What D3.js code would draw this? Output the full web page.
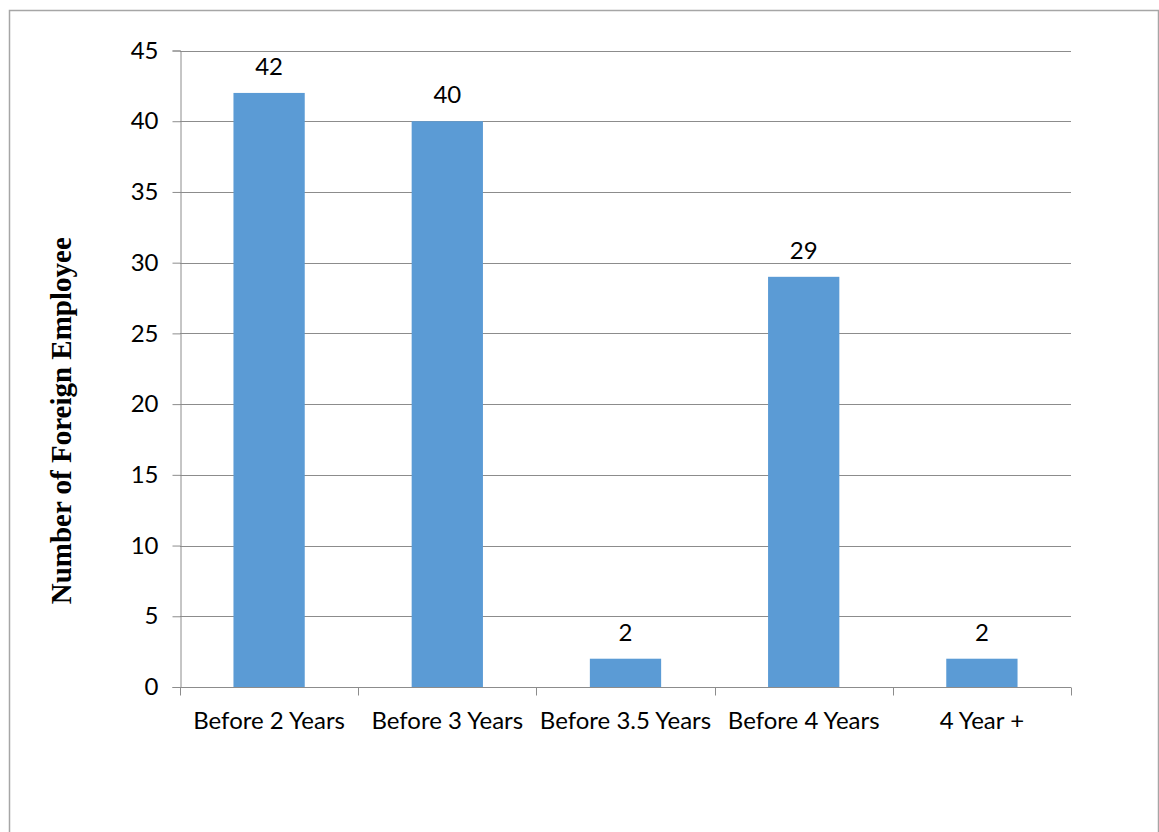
<!DOCTYPE html>
<html>
<head>
<meta charset="utf-8">
<script src="https://cdn.jsdelivr.net/npm/d3@7"></script>
<style>
  html, body { margin: 0; padding: 0; background: #fff; }
  svg { display: block; }
</style>
</head>
<body>
<svg id="chart" width="1159" height="832"></svg>
<script>
// Time-to-leave categories and the number of foreign employees in each
const categories = ["Before 2 Years", "Before 3 Years", "Before 3.5 Years", "Before 4 Years", "4 Year +"];
const employees = [42, 40, 2, 29, 2];
const yTicks = [0, 5, 10, 15, 20, 25, 30, 35, 40, 45];
const yTitle = "Number of Foreign Employee";

const svg = d3.select("#chart");
const W = 1159, H = 832;
const plot = { left: 180, right: 1071, top: 50.5, bottom: 687 };

const labelFont = "Lato, 'Open Sans', 'Liberation Sans', sans-serif";
const labelSize = 24;

// Outer frame (open at the bottom)
svg.append("path")
  .attr("d", `M9.5,${H} V10.5 H1158.5 V${H}`)
  .attr("fill", "none")
  .attr("stroke", "#a6a6a6")
  .attr("stroke-width", 1.5);

const x = d3.scaleBand()
  .domain(categories)
  .range([plot.left, plot.right])
  .paddingInner(0)
  .paddingOuter(0);

const y = d3.scaleLinear()
  .domain([0, 45])
  .range([plot.bottom, plot.top]);

// Horizontal gridlines
svg.append("g")
  .selectAll("line")
  .data(yTicks.filter(d => d > 0))
  .join("line")
  .attr("x1", plot.left)
  .attr("x2", plot.right)
  .attr("y1", d => Math.round(y(d)) + 0.5)
  .attr("y2", d => Math.round(y(d)) + 0.5)
  .attr("stroke", "#8c8c8c")
  .attr("stroke-width", 1);

// Y axis
const yAxis = svg.append("g")
  .attr("transform", `translate(${plot.left + 0.5},0)`)
  .call(d3.axisLeft(y).tickValues(yTicks).tickSize(8).tickPadding(14));
yAxis.select(".domain").attr("stroke", "#8c8c8c");
yAxis.selectAll(".tick line").attr("stroke", "#8c8c8c");
yAxis.selectAll(".tick text")
  .attr("font-family", labelFont)
  .attr("font-size", labelSize)
  .attr("fill", "#000");

// Bars
const bw = x.bandwidth() * 0.4;
svg.append("g")
  .selectAll("rect")
  .data(categories.map((c, i) => ({ c, v: employees[i] })))
  .join("rect")
  .attr("x", d => x(d.c) + (x.bandwidth() - bw) / 2)
  .attr("y", d => y(d.v))
  .attr("width", bw)
  .attr("height", d => y(0) - y(d.v))
  .attr("fill", "#5b9bd5");

// X axis with category separators
const xAxis = svg.append("g").attr("transform", `translate(0,${Math.round(plot.bottom) + 0.5})`);
xAxis.append("line")
  .attr("x1", plot.left).attr("x2", plot.right)
  .attr("stroke", "#8c8c8c");
const seps = categories.map(c => x(c)).concat([plot.right]);
xAxis.selectAll("line.sep")
  .data(seps)
  .join("line")
  .attr("class", "sep")
  .attr("x1", d => Math.round(d) + 0.5)
  .attr("x2", d => Math.round(d) + 0.5)
  .attr("y1", 0).attr("y2", 8)
  .attr("stroke", "#8c8c8c");
xAxis.selectAll("text")
  .data(categories)
  .join("text")
  .attr("x", d => x(d) + x.bandwidth() / 2)
  .attr("y", 41)
  .attr("text-anchor", "middle")
  .attr("font-family", labelFont)
  .attr("font-size", labelSize)
  .attr("fill", "#000")
  .text(d => d);

// Value labels
svg.append("g")
  .selectAll("text")
  .data(categories.map((c, i) => ({ c, v: employees[i] })))
  .join("text")
  .attr("x", d => x(d.c) + x.bandwidth() / 2)
  .attr("y", d => y(d.v) - 18)
  .attr("text-anchor", "middle")
  .attr("font-family", labelFont)
  .attr("font-size", labelSize)
  .attr("fill", "#000")
  .text(d => d.v);

// Y axis title
svg.append("text")
  .attr("transform", `translate(71,${(plot.top + plot.bottom) / 2 + 52}) rotate(-90)`)
  .attr("text-anchor", "middle")
  .attr("font-family", "'Liberation Serif', 'Times New Roman', serif")
  .attr("font-weight", "bold")
  .attr("font-size", 29)
  .attr("fill", "#000")
  .text(yTitle);
</script>
</body>
</html>
